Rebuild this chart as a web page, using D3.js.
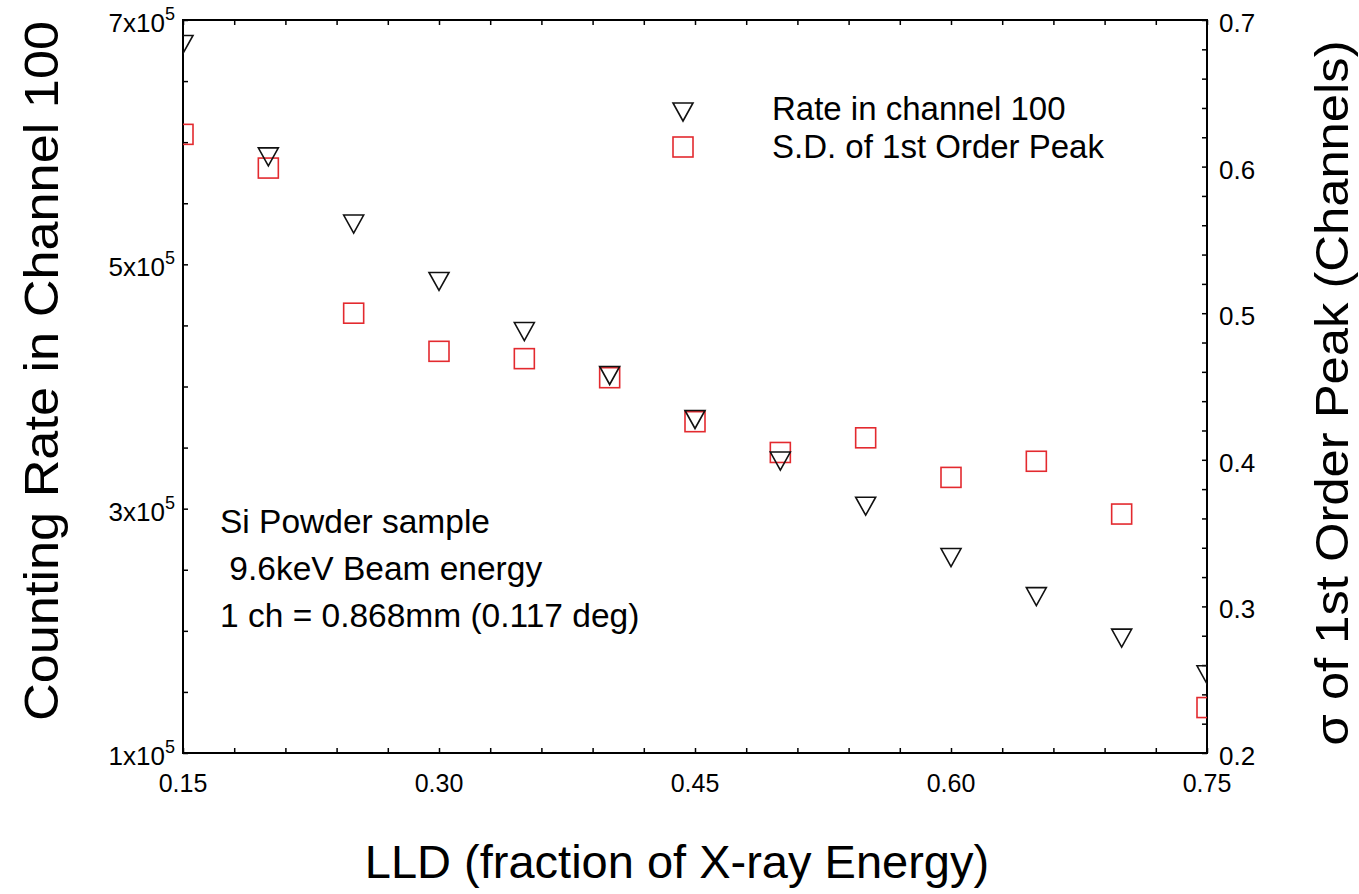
<!DOCTYPE html>
<html>
<head>
<meta charset="utf-8">
<script src="https://cdn.jsdelivr.net/npm/d3@7"></script>
<style>
  body { margin: 0; background: #fff; }
  text { font-family: Arial, "Liberation Sans", sans-serif; fill: #000; }
</style>
</head>
<body>
<svg id="chart" width="1359" height="894"></svg>
<script>
// values
const lld = [0.15, 0.20, 0.25, 0.30, 0.35, 0.40, 0.45, 0.50, 0.55, 0.60, 0.65, 0.70, 0.75];
const rate = [6.80e5, 5.88e5, 5.33e5, 4.86e5, 4.45e5, 4.09e5, 3.73e5, 3.39e5, 3.02e5, 2.60e5, 2.28e5, 1.94e5, 1.64e5];
const sigma = [0.622, 0.599, 0.500, 0.474, 0.469, 0.456, 0.426, 0.405, 0.415, 0.388, 0.399, 0.363, 0.231];
const xLabels = [0.15, 0.30, 0.45, 0.60, 0.75];
const leftLabels = [1, 3, 5, 7];
const rightLabels = [0.2, 0.3, 0.4, 0.5, 0.6, 0.7];
const noteLines = ['Si Powder sample', ' 9.6keV Beam energy', '1 ch = 0.868mm (0.117 deg)'];

const svg = d3.select('#chart');
let margins = { left: 183, top: 20, right: 152, bottom: 141 };
let chartWidth = svg.attr('width') - margins.left - margins.right;
let chartHeight = svg.attr('height') - margins.top - margins.bottom;
const red = '#e32a2f';

const x = d3.scaleLinear().domain([0.15, 0.75]).range([0, chartWidth]);
const yL = d3.scaleLinear().domain([1e5, 7e5]).range([chartHeight, 0]);
const yR = d3.scaleLinear().domain([0.2, 0.7]).range([chartHeight, 0]);

const g = svg.append('g').attr('transform', `translate(${margins.left},${margins.top})`);

svg.append('defs').append('clipPath').attr('id', 'plotclip')
  .append('rect').attr('width', chartWidth).attr('height', chartHeight);

// inward ticks on all sides
const tick = 5;
g.append('g').attr('transform', `translate(0,${chartHeight})`)
  .call(d3.axisBottom(x).tickValues(d3.range(0, 21).map(i => 0.15 + i * 0.03)).tickSize(-tick).tickFormat(''));
g.append('g')
  .call(d3.axisTop(x).tickValues(d3.range(0, 21).map(i => 0.15 + i * 0.03)).tickSize(-tick).tickFormat(''));
g.append('g')
  .call(d3.axisLeft(yL).tickValues(d3.range(0, 13).map(i => 1e5 + i * 0.5e5)).tickSize(-tick).tickFormat(''));
g.append('g').attr('transform', `translate(${chartWidth},0)`)
  .call(d3.axisRight(yR).tickValues(d3.range(0, 26).map(i => 0.2 + i * 0.02)).tickSize(-tick).tickFormat(''));
g.selectAll('.domain').remove();
g.selectAll('.tick line').attr('stroke', '#000').attr('stroke-width', 1.5);

g.append('rect')
  .attr('width', chartWidth).attr('height', chartHeight)
  .attr('fill', 'none').attr('stroke', '#000').attr('stroke-width', 2);

// tick labels
xLabels.forEach(v => g.append('text')
  .attr('x', x(v)).attr('y', chartHeight + 39)
  .attr('text-anchor', 'middle').style('font-size', '25px')
  .text(v.toFixed(2)));

leftLabels.forEach(v => {
  let t = g.append('text')
    .attr('x', -8).attr('y', yL(v * 1e5) + 12)
    .attr('text-anchor', 'end').style('font-size', '26px');
  t.append('tspan').text(v + 'x10');
  t.append('tspan').attr('dy', -12).style('font-size', '18px').text('5');
});

rightLabels.forEach(v => g.append('text')
  .attr('x', chartWidth + 12).attr('y', yR(v) + 12)
  .style('font-size', '26px')
  .text(v.toFixed(1)));

// axis titles
svg.append('text')
  .attr('transform', `translate(58,371) rotate(-90)`)
  .attr('text-anchor', 'middle').style('font-size', '49px')
  .attr('textLength', 700).attr('lengthAdjust', 'spacingAndGlyphs')
  .text('Counting Rate in Channel 100');
svg.append('text')
  .attr('transform', `translate(1348,393) rotate(-90)`)
  .attr('text-anchor', 'middle').style('font-size', '47px')
  .attr('textLength', 705).attr('lengthAdjust', 'spacingAndGlyphs')
  .text('σ of 1st Order Peak (Channels)');
svg.append('text')
  .attr('x', 677).attr('y', 878)
  .attr('text-anchor', 'middle').style('font-size', '47px')
  .text('LLD (fraction of X-ray Energy)');

// markers
const tri = 'M-10,-9L10,-9L0,9Z';
const plot = g.append('g').attr('clip-path', 'url(#plotclip)');
plot.selectAll('rect.sd').data(lld).join('rect')
  .attr('class', 'sd')
  .attr('x', (d, i) => x(d) - 10).attr('y', (d, i) => yR(sigma[i]) - 10)
  .attr('width', 20).attr('height', 20)
  .attr('fill', 'none').attr('stroke', red).attr('stroke-width', 1.6);
plot.selectAll('path.rate').data(lld).join('path')
  .attr('class', 'rate')
  .attr('d', tri)
  .attr('transform', (d, i) => `translate(${x(d)},${yL(rate[i])})`)
  .attr('fill', 'none').attr('stroke', '#111').attr('stroke-width', 1.6);

// legend
const legend = svg.append('g');
legend.append('path').attr('d', tri).attr('transform', 'translate(683,112)')
  .attr('fill', 'none').attr('stroke', '#111').attr('stroke-width', 1.6);
legend.append('rect').attr('x', 673).attr('y', 137).attr('width', 20).attr('height', 20)
  .attr('fill', 'none').attr('stroke', red).attr('stroke-width', 1.6);
legend.append('text').attr('x', 772).attr('y', 120).style('font-size', '33px').text('Rate in channel 100');
legend.append('text').attr('x', 772).attr('y', 158).style('font-size', '33px').text('S.D. of 1st Order Peak');

// note
noteLines.forEach((s, i) => svg.append('text')
  .attr('x', 220).attr('y', 533 + i * 47)
  .style('font-size', '33.5px').style('white-space', 'pre').attr('xml:space', 'preserve')
  .text(s));
</script>
</body>
</html>
